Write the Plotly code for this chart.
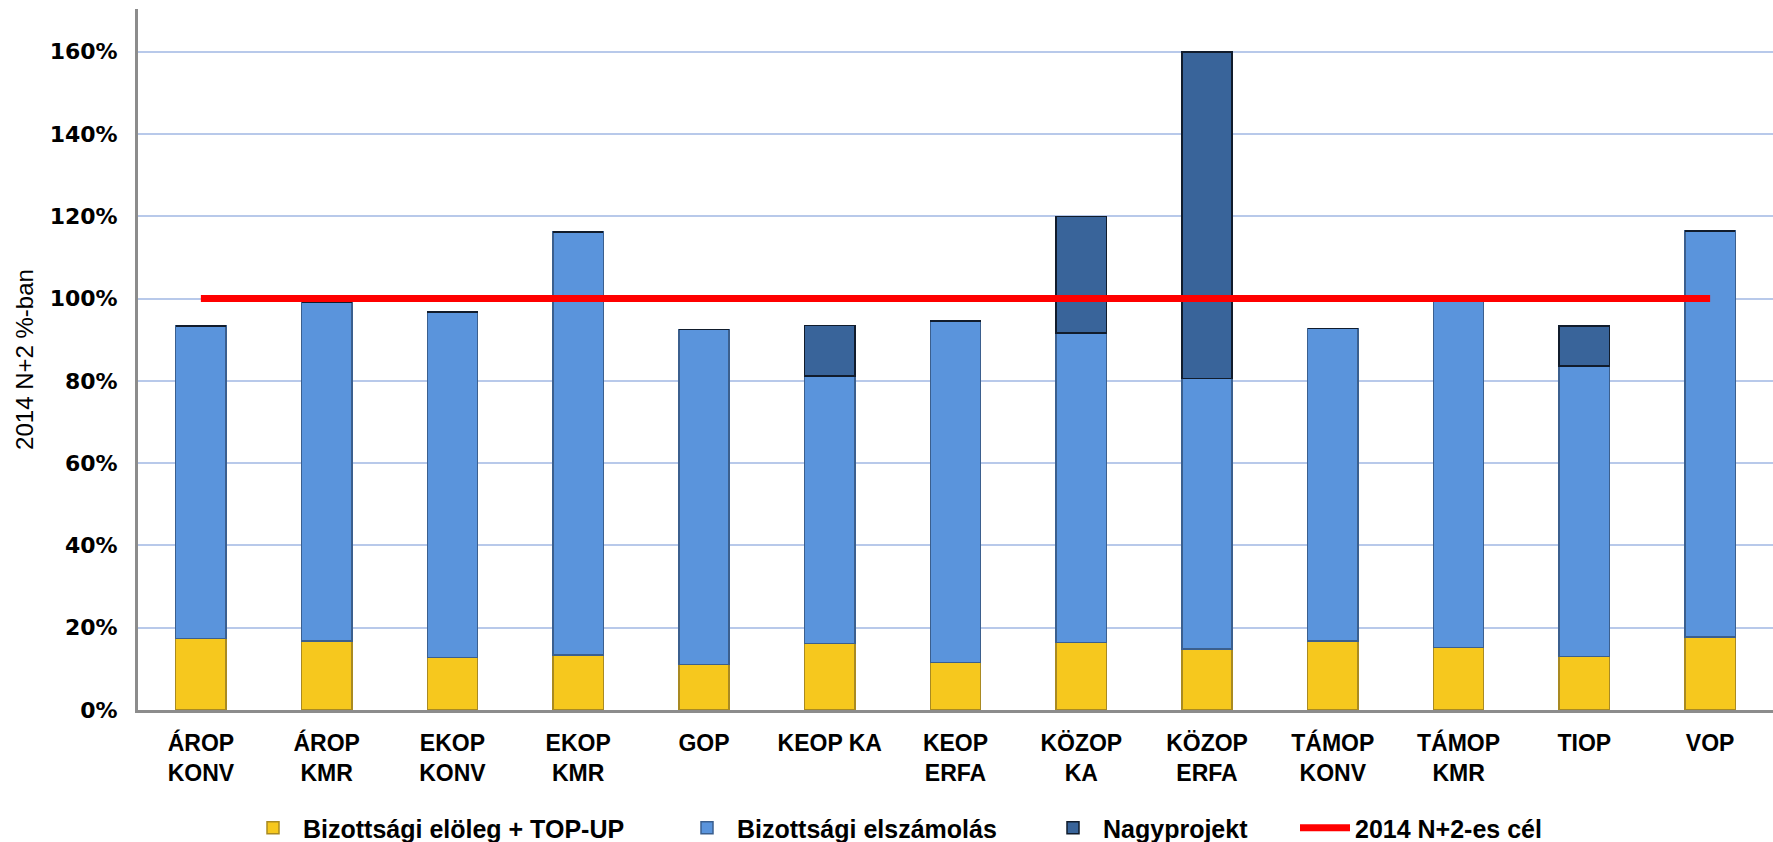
import plotly.graph_objects as go

categories = ["ÁROP<br>KONV", "ÁROP<br>KMR", "EKOP<br>KONV", "EKOP<br>KMR", "GOP", "KEOP KA",
              "KEOP<br>ERFA", "KÖZOP<br>KA", "KÖZOP<br>ERFA", "TÁMOP<br>KONV", "TÁMOP<br>KMR", "TIOP", "VOP"]

# values in percent (stacked segments)
eloleg = [17.4, 16.8, 12.8, 13.4, 11.1, 16.2, 11.5, 16.4, 14.8, 16.8, 15.2, 13.0, 17.8]
elszamolas = [75.9, 82.4, 84.0, 102.8, 81.4, 65.0, 83.0, 75.2, 65.8, 75.9, 84.3, 70.6, 98.6]
nagyprojekt = [0, 0, 0, 0, 0, 12.3, 0, 28.4, 79.4, 0, 0, 9.8, 0]
cel = [100] * 13

tick_vals = [0, 20, 40, 60, 80, 100, 120, 140, 160]
tick_text = ["0%", "20%", "40%", "60%", "80%", "100%", "120%", "140%", "160%"]

W, H = 1773, 842
legend_font = dict(family="Liberation Sans", size=25, color="black", weight="bold")
leg_y = (842 - 828) / 842


def leg(xpx):
    return dict(orientation="h", xref="container", x=xpx / W, xanchor="left",
                yref="container", y=leg_y, yanchor="middle",
                font=legend_font, bgcolor="rgba(0,0,0,0)", itemwidth=50)


fig = go.Figure()
fig.add_trace(go.Bar(
    x=categories, y=eloleg, name="Bizottsági elöleg + TOP-UP", legend="legend",
    marker=dict(color="#F6C81E", line=dict(color="#A98A22", width=1.5)), width=0.4))
fig.add_trace(go.Bar(
    x=categories, y=elszamolas, name="Bizottsági elszámolás", legend="legend2",
    marker=dict(color="#5A94DC", line=dict(color="#3B5F8E", width=1.5)), width=0.4))
fig.add_trace(go.Bar(
    x=categories, y=nagyprojekt, name="Nagyprojekt", legend="legend3",
    marker=dict(color="#39649A", line=dict(color="#111C2C", width=1.5)), width=0.4))
fig.add_trace(go.Scatter(
    x=categories, y=cel, name="2014 N+2-es cél", mode="lines", legend="legend4",
    line=dict(color="#FF0000", width=7)))

fig.update_layout(
    barmode="stack",
    width=W, height=H,
    margin=dict(l=138, r=0, t=9, b=132, autoexpand=False),
    paper_bgcolor="white", plot_bgcolor="white",
    showlegend=True,
    legend=leg(243), legend2=leg(677), legend3=leg(1043), legend4=leg(1295),
    font=dict(family="Liberation Sans", color="black"),
)
fig.update_xaxes(
    type="category", range=[-0.5, 12.5],
    showline=True, linecolor="#8C8C8C", linewidth=3,
    showgrid=False, ticks="", ticklabelstandoff=10,
    tickfont=dict(family="Liberation Sans", size=23, color="black", weight="bold"),
)
fig.update_yaxes(
    range=[0, 170.4], tickvals=tick_vals, ticktext=tick_text,
    showline=True, linecolor="#8C8C8C", linewidth=3,
    showgrid=True, gridcolor="#B8C9EA", gridwidth=2,
    zeroline=False, ticks="", ticklabelstandoff=13,
    tickfont=dict(family="DejaVu Sans", size=22, color="black", weight="bold"),
    title=dict(text="2014 N+2 %-ban", font=dict(family="Liberation Sans", size=24, color="black"),
               standoff=10),
)

fig.write_html("out.html", config={"displayModeBar": False},
               post_script="document.body.style.margin='0';document.body.style.overflow='hidden';")
